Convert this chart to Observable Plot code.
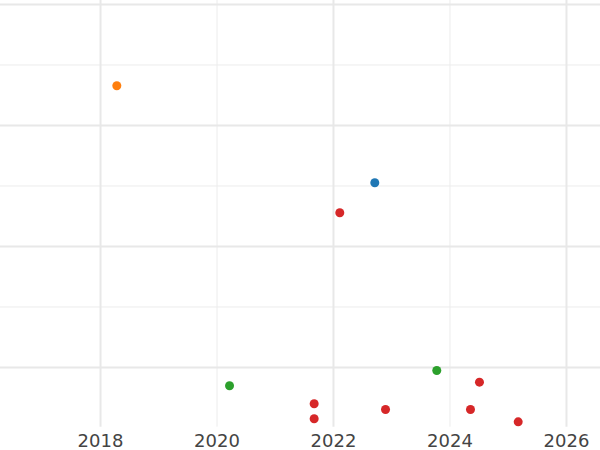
<!DOCTYPE html>
<html>
<head>
<meta charset="utf-8">
<script src="https://cdn.jsdelivr.net/npm/d3@7"></script>
<script src="https://cdn.jsdelivr.net/npm/@observablehq/plot@0.6"></script>
<style>
  html, body { margin: 0; padding: 0; background: #fff; }
  #chart svg { display: block; }
</style>
</head>
<body>
<div id="chart"></div>
<script>
// Data
const groups = ["Series A", "Series B", "Series C", "Series D"];
const groupColors = ["#1f77b4", "#ff7f0e", "#2ca02c", "#d62728"];
const years = [2018.28, 2022.709, 2022.108, 2020.215, 2023.773, 2021.668, 2021.668, 2022.893, 2024.352, 2024.506, 2025.171];
const values = [4.656, 3.053, 2.557, -0.302, -0.05, -0.6, -0.848, -0.694, -0.694, -0.243, -0.898];
const series = ["Series B", "Series A", "Series D", "Series C", "Series C", "Series D", "Series D", "Series D", "Series D", "Series D", "Series D"];
const xTicks = [2018, 2020, 2022, 2024, 2026];
const xMajorGrid = [2018, 2022, 2026];
const xMinorGrid = [2020, 2024];
const yMajorGrid = [0, 2, 4, 6];
const yMinorGrid = [1, 3, 5];

const points = years.map((x, i) => ({x, y: values[i], g: series[i]}));

const chart = Plot.plot({
  width: 600,
  height: 450,
  marginTop: 0,
  marginRight: 0,
  marginLeft: 0,
  marginBottom: 23.3,
  x: {domain: [2016.283, 2026.584], axis: null, label: null},
  y: {domain: [-0.987, 6.066], axis: null, label: null},
  color: {domain: groups, range: groupColors},
  style: {fontFamily: "DejaVu Sans, sans-serif", background: "#fff"},
  marks: [
    Plot.ruleX(xMinorGrid, {stroke: "#ececec", strokeWidth: 1}),
    Plot.ruleY(yMinorGrid, {stroke: "#ececec", strokeWidth: 1}),
    Plot.ruleX(xMajorGrid, {stroke: "#e8e8e8", strokeWidth: 2}),
    Plot.ruleY(yMajorGrid, {stroke: "#e8e8e8", strokeWidth: 2}),
    Plot.axisX({ticks: xTicks, tickFormat: d => String(d), tickSize: 0, tickPadding: 7, fontSize: 18, color: "#444", label: null}),
    Plot.dot(points, {x: "x", y: "y", fill: "g", r: 4.5, stroke: "none"})
  ]
});
document.getElementById("chart").append(chart);
</script>
</body>
</html>
